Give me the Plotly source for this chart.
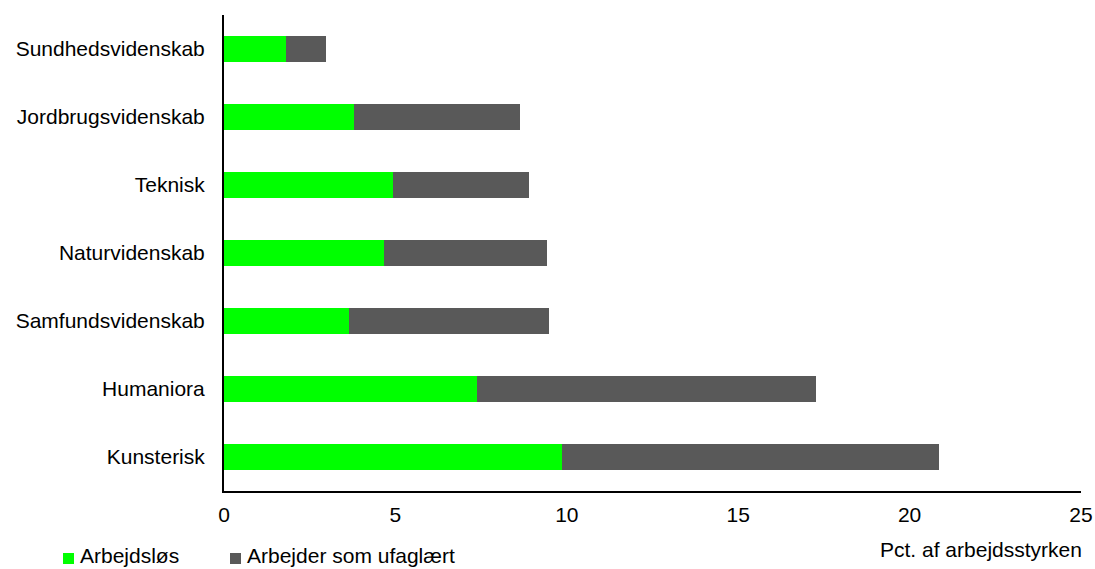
import plotly.graph_objects as go

categories = ["Kunsterisk", "Humaniora", "Samfundsvidenskab", "Naturvidenskab",
              "Teknisk", "Jordbrugsvidenskab", "Sundhedsvidenskab"]
arbejdslos = [9.85, 7.37, 3.64, 4.66, 4.93, 3.79, 1.80]
ufaglaert = [11.01, 9.89, 5.85, 4.77, 3.96, 4.85, 1.17]
x_ticks = [0, 5, 10, 15, 20, 25]
series_names = ["Arbejdsløs", "Arbejder som ufaglært"]
series_colors = ["#00FF00", "#595959"]

FONT = "Liberation Sans, Arial, sans-serif"

W, H = 1095, 569
L, R, T, B = 224, 14, 15, 78
PW, PH = W - L - R, H - T - B


def px_x(px):
    return (px - L) / PW


def px_y(py):
    return (H - B - py) / PH


fig = go.Figure()
for vals, name, color in zip([arbejdslos, ufaglaert], series_names, series_colors):
    fig.add_trace(go.Bar(y=categories, x=vals, orientation="h", name=name,
                         marker=dict(color=color, line=dict(width=0)), showlegend=False))

# manual legend (squares + real text), placed like the reference
legend_sq_left = [63, 230]
shapes = []
annotations = []
for left, name, color in zip(legend_sq_left, series_names, series_colors):
    shapes.append(dict(type="rect", xref="paper", yref="paper",
                       x0=px_x(left), x1=px_x(left + 11), y0=px_y(564), y1=px_y(553),
                       fillcolor=color, line=dict(width=0)))
    annotations.append(dict(text=name, xref="paper", yref="paper",
                            x=px_x(left + 15), y=px_y(555), xanchor="left", yanchor="middle",
                            showarrow=False, font=dict(size=21)))

annotations.append(dict(text="Pct. af arbejdsstyrken", xref="paper", yref="paper",
                        x=px_x(1084), y=px_y(549), xanchor="right", yanchor="middle",
                        showarrow=False, font=dict(size=21)))

fig.update_layout(
    barmode="stack",
    bargap=0.61,
    width=W, height=H,
    margin=dict(l=L, r=R, t=T, b=B, autoexpand=False),
    paper_bgcolor="white", plot_bgcolor="white",
    font=dict(family=FONT, size=21, color="#000000"),
    showlegend=False,
    xaxis=dict(range=[0, 25], tickvals=x_ticks, showgrid=False, zeroline=False,
               showline=True, linecolor="black", linewidth=2, ticks="",
               ticklabelstandoff=4, fixedrange=True, automargin=False),
    yaxis=dict(showgrid=False, zeroline=False, showline=True, linecolor="black",
               linewidth=2, ticks="", ticklabelstandoff=13, fixedrange=True,
               automargin=False),
    shapes=shapes,
    annotations=annotations,
)

fig.write_html("out.html")
